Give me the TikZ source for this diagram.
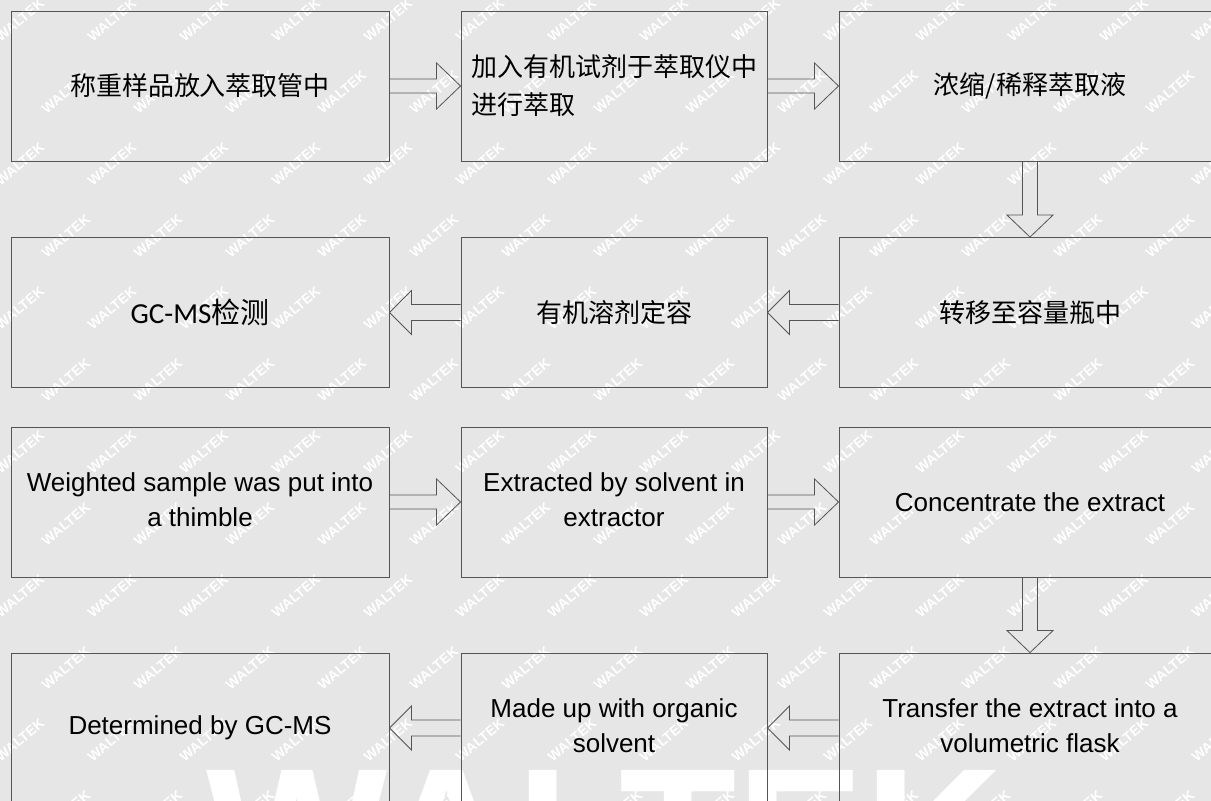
\documentclass[tikz,border=0pt]{standalone}
\usepackage{fontspec}
\setmainfont{Liberation Sans}
\newfontfamily\cjkfont{Noto Sans CJK SC}
\newfontfamily\calibrifont{Carlito}
\usetikzlibrary{calc}
\definecolor{bgc}{RGB}{230,230,230}
\definecolor{edgec}{RGB}{85,85,85}
\tikzset{
  box/.style={draw=edgec, line width=0.9pt, inner sep=4pt, minimum height=150pt, text=black,
    font=\fontsize{26}{35}\selectfont, align=center},
  blk/.style={draw=edgec, line width=0.8pt, line join=miter},
  wm/.style={text=white, font=\bfseries\fontsize{14}{14}\selectfont, rotate=40, inner sep=0pt},
}
\newcommand\blockright[2]{\draw[blk] ($(#1.east)+(0,-7)$) -- ($(#2.west)+(-24,-7)$) -- ($(#2.west)+(-24,-23)$) -- (#2.west) -- ($(#2.west)+(-24,23)$) -- ($(#2.west)+(-24,7)$) -- ($(#1.east)+(0,7)$);}
\newcommand\blockleft[2]{\draw[blk] ($(#1.west)+(0,-8)$) -- ($(#2.east)+(22,-8)$) -- ($(#2.east)+(22,-22)$) -- (#2.east) -- ($(#2.east)+(22,22)$) -- ($(#2.east)+(22,8)$) -- ($(#1.west)+(0,8)$);}
\newcommand\blockdown[2]{\draw[blk] ($(#1.south)+(-7.5,0)$) -- ($(#2.north)+(-7.5,-22)$) -- ($(#2.north)+(-23,-22)$) -- (#2.north) -- ($(#2.north)+(23,-22)$) -- ($(#2.north)+(7.5,-22)$) -- ($(#1.south)+(7.5,0)$);}
\begin{document}
\begin{tikzpicture}[x=1pt,y=-1pt]
\useasboundingbox (0,0) rectangle (1211,801);
\fill[bgc] (0,0) rectangle (1211,801);
\begin{scope}
\clip (0,0) rectangle (1211,801);
% watermark
\foreach \i in {0,...,13} {
  \foreach \j in {0,...,11} {
    \pgfmathsetmacro\wx{\i*92 + mod(\j,2)*46 + 20}
    \pgfmathsetmacro\wy{\j*72 + 20}
    \node[wm] (wm-\i-\j) at (\wx,\wy) {WALTEK};
  }
}
\node[text=white, anchor=base, inner sep=0pt, font=\bfseries\fontsize{192}{192}\selectfont] (bigwm) at (605,902) {WALTEK};
% row 1
\node[box, minimum width=378pt] (b1) at (200,86) {\cjkfont 称重样品放入萃取管中};
\node[box, minimum width=306pt, align=left] (b2) at (614,86) {\cjkfont 加入有机试剂于萃取仪中\\[3pt]\cjkfont 进行萃取};
\node[box, minimum width=382pt] (b3) at (1030,86) {\cjkfont 浓缩/稀释萃取液};
% row 2
\node[box, minimum width=378pt, font=\fontsize{29}{35}\selectfont] (b4) at (200,312.5) {{\calibrifont GC-MS}{\cjkfont 检测}};
\node[box, minimum width=306pt] (b5) at (614,312.5) {\cjkfont 有机溶剂定容};
\node[box, minimum width=382pt] (b6) at (1030,312.5) {\cjkfont 转移至容量瓶中};
% row 3
\node[box, minimum width=378pt] (c1) at (200,502) {\raisebox{-4pt}{\begin{tabular}{@{}c@{}}Weighted sample was put into\\[-0.5pt]a thimble\end{tabular}}};
\node[box, minimum width=306pt] (c2) at (614,502) {\raisebox{-4pt}{\begin{tabular}{@{}c@{}}Extracted by solvent in\\[-0.5pt]extractor\end{tabular}}};
\node[box, minimum width=382pt] (c3) at (1030,502) {\raisebox{-3pt}{Concentrate the extract}};
% row 4
\node[box, minimum width=378pt] (d4) at (200,728) {Determined by GC-MS};
\node[box, minimum width=306pt] (d5) at (614,728) {\begin{tabular}{@{}c@{}}Made up with organic\\[-0.5pt]solvent\end{tabular}};
\node[box, minimum width=382pt] (d6) at (1030,728) {\raisebox{-2pt}{\begin{tabular}{@{}c@{}}Transfer the extract into a\\[-0.5pt]volumetric flask\end{tabular}}};
% arrows
\blockright{b1}{b2}
\blockright{b2}{b3}
\blockdown{b3}{b6}
\blockleft{b6}{b5}
\blockleft{b5}{b4}
\blockright{c1}{c2}
\blockright{c2}{c3}
\blockdown{c3}{d6}
\blockleft{d6}{d5}
\blockleft{d5}{d4}
\end{scope}
\end{tikzpicture}
\end{document}
